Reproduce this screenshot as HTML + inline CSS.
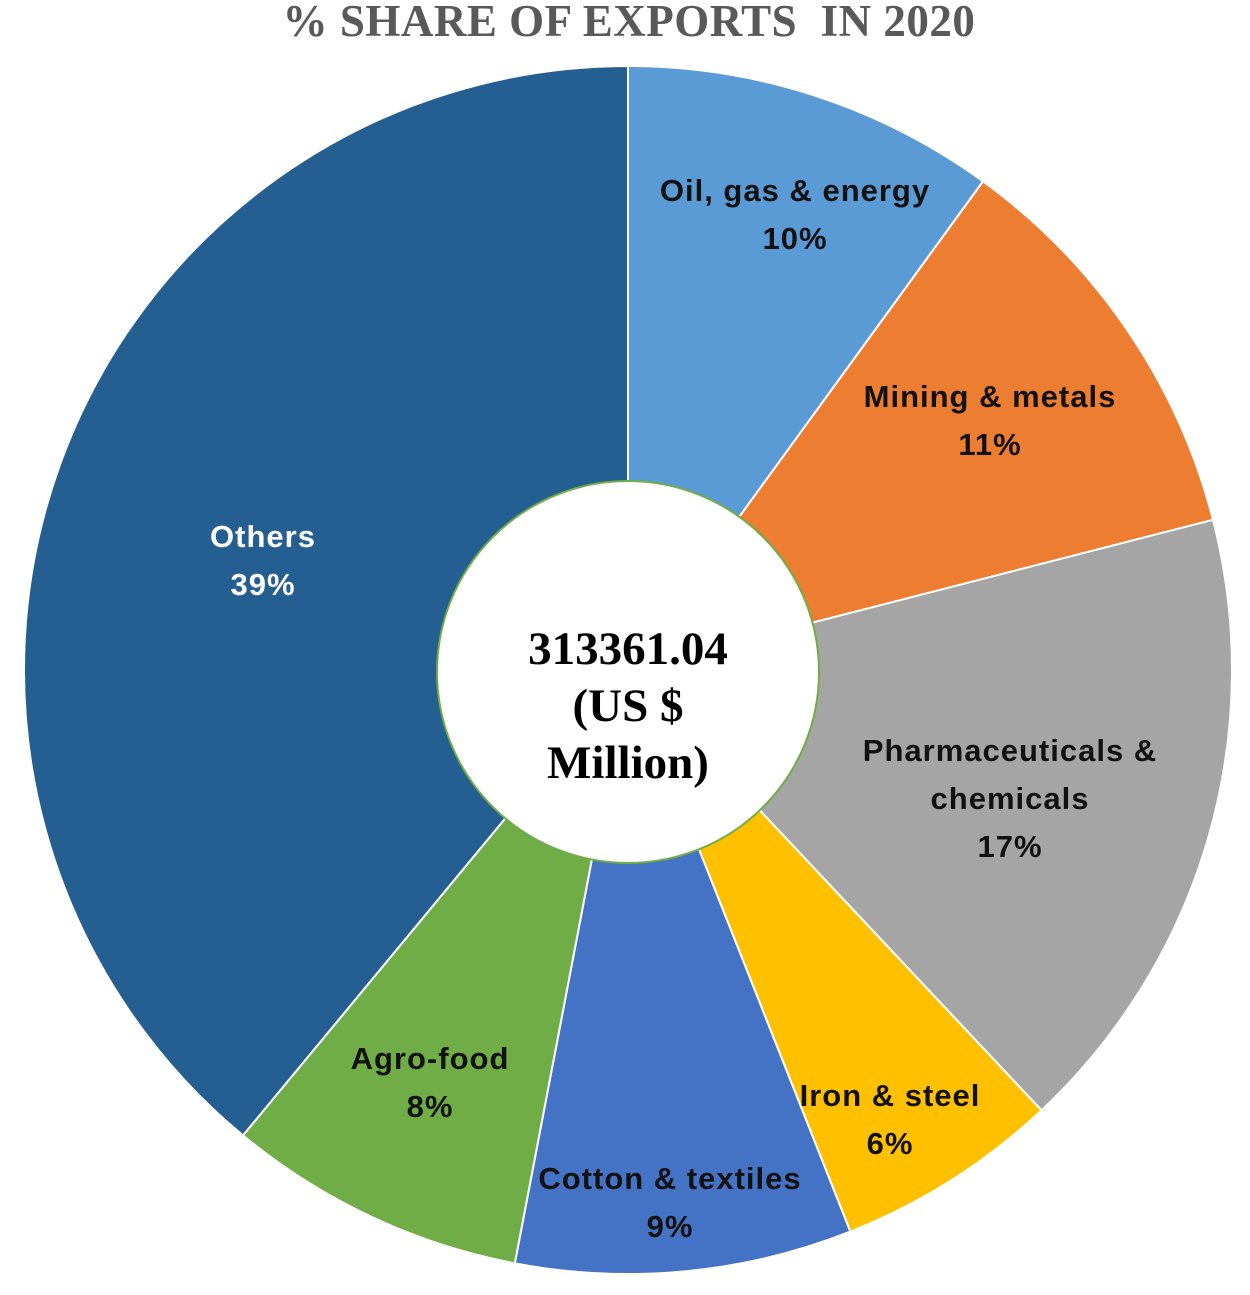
<!DOCTYPE html>
<html><head><meta charset="utf-8">
<style>
html,body{margin:0;padding:0;background:#fff;}
body{width:1250px;height:1295px;overflow:hidden;position:relative;}
#title{position:absolute;left:0;width:1258px;top:-5px;text-align:center;font-family:"Liberation Serif",serif;font-weight:bold;font-size:45px;color:#595959;letter-spacing:0.5px;}
svg{position:absolute;left:0;top:0;}
</style></head>
<body>
<div id="title">% SHARE OF EXPORTS&nbsp; IN 2020</div>
<svg id="chart" width="1250" height="1295"></svg>
<script>
const categories = ["Oil, gas & energy","Mining & metals","Pharmaceuticals & chemicals","Iron & steel","Cotton & textiles","Agro-food","Others"];
const values = [10,11,17,6,9,8,39];
const colors = ["#5B9BD5","#ED7D31","#A5A5A5","#FFC000","#4472C4","#70AD47","#255E91"];
const labelLines = [["Oil, gas & energy"],["Mining & metals"],["Pharmaceuticals &","chemicals"],["Iron & steel"],["Cotton & textiles"],["Agro-food"],["Others"]];
const totalLabel = ["313361.04","(US $","Million)"];

const svg = document.getElementById('chart');
const NS = 'http://www.w3.org/2000/svg';
const cx = 628, cy = 670, R = 604, r0 = 191;
const labelPos = [[795,190],[990,396],[1010,750],[890,1095],[670,1178],[430,1058],[263,536]];
const total = values.reduce((a,b)=>a+b,0);
function pt(a, rad){ return [cx + rad*Math.sin(a), cy - rad*Math.cos(a)]; }
let acc = 0;
values.forEach((v,i)=>{
  const a0 = acc/total*2*Math.PI; acc += v; const a1 = acc/total*2*Math.PI;
  const p0 = pt(a0,R), p1 = pt(a1,R);
  const large = (a1-a0) > Math.PI ? 1 : 0;
  const path = document.createElementNS(NS,'path');
  path.setAttribute('d',`M${cx},${cy} L${p0[0]},${p0[1]} A${R},${R} 0 ${large} 1 ${p1[0]},${p1[1]} Z`);
  path.setAttribute('fill',colors[i]);
  path.setAttribute('stroke','#fff');
  path.setAttribute('stroke-width','2');
  
  
  svg.appendChild(path);
});
const hole = document.createElementNS(NS,'circle');
hole.setAttribute('cx',cx); hole.setAttribute('cy',cy+2); hole.setAttribute('r',r0);
hole.setAttribute('fill','#fff'); hole.setAttribute('stroke','#70AD47'); hole.setAttribute('stroke-width','2');


svg.appendChild(hole);
values.forEach((v,i)=>{
  const t = document.createElementNS(NS,'text');
  
  
  t.setAttribute('x',labelPos[i][0]); t.setAttribute('y',labelPos[i][1]+11);
  t.setAttribute('text-anchor','middle');
  t.setAttribute('font-family','"Liberation Sans", sans-serif');
  t.setAttribute('font-weight','bold'); t.setAttribute('font-size','31');
  t.setAttribute('letter-spacing','1');
  t.setAttribute('fill', i===6 ? '#fff' : '#111');
  const lines = labelLines[i].concat([v+'%']);
  lines.forEach((ln,k)=>{
    const s = document.createElementNS(NS,'tspan');
    s.setAttribute('x',labelPos[i][0]); s.setAttribute('dy', k===0?0:48);
    s.textContent = ln; t.appendChild(s);
  });
  svg.appendChild(t);
});
const ct = document.createElementNS(NS,'text');


ct.setAttribute('text-anchor','middle');
ct.setAttribute('font-family','"Liberation Serif", serif');
ct.setAttribute('font-weight','bold'); ct.setAttribute('font-size','47'); ct.setAttribute('fill','#000');
totalLabel.forEach((ln,k)=>{
  const s = document.createElementNS(NS,'tspan');
  s.setAttribute('x',cx); s.setAttribute('y',664 + k*57);
  s.textContent = ln; ct.appendChild(s);
});
svg.appendChild(ct);
</script>
</body></html>
